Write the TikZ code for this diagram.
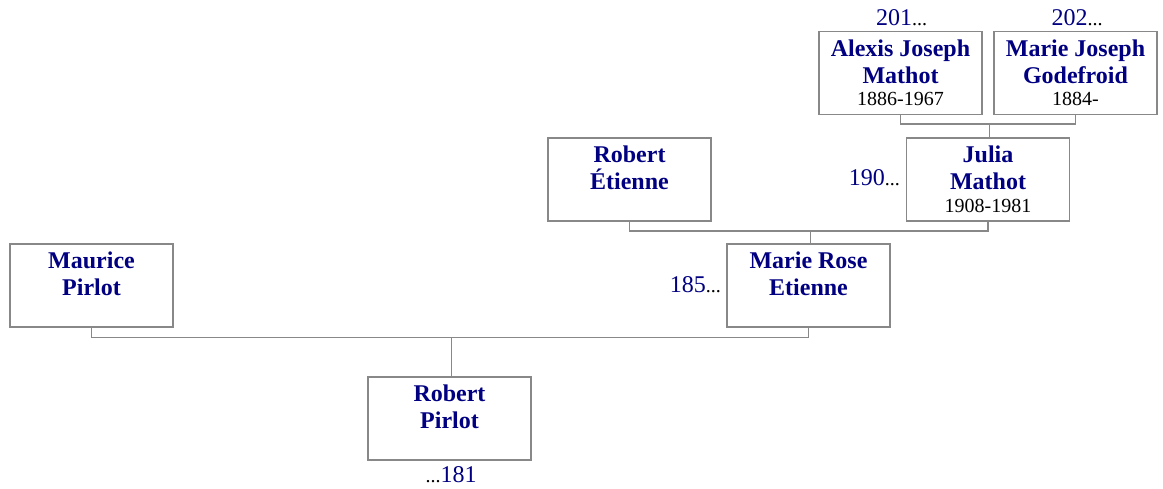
\documentclass[tikz,border=0pt]{standalone}
\usepackage{fontspec}
\setmainfont{Liberation Serif}
\definecolor{nav}{RGB}{0,0,128}
\definecolor{ln}{RGB}{136,136,136}
\newcommand{\datef}{\fontsize{20}{23}\selectfont\mdseries\color{black}}
\newcommand{\dotsf}[1]{{\fontsize{20}{20}\selectfont\color{black}#1}}
\begin{document}
\begin{tikzpicture}[x=1pt,y=-1pt,
  person/.style={draw=ln,line width=1.4pt,minimum width=163pt,minimum height=83pt,inner sep=0pt,outer sep=0pt},
  ptext/.style={anchor=north,align=center,inner sep=0pt,text=nav,font=\fontsize{24}{27}\selectfont\bfseries},
  lab/.style={inner sep=0pt,text=nav,font=\fontsize{24}{27}\selectfont},
  conn/.style={draw=ln,line width=1.4pt}]
\useasboundingbox (0,0) rectangle (1163,489);

\node[person] (alexis) at (900.5,73) {};
\node[person] (mjg) at (1075.5,73) {};
\node[person] (julia) at (988,179.5) {};
\node[person] (retienne) at (629.5,179.5) {};
\node[person] (mrose) at (808.5,285.5) {};
\node[person] (maurice) at (91.5,285.5) {};
\node[person] (rpirlot) at (449.5,418.5) {};

\node[ptext] (alexis-t) at ([yshift=-8pt]alexis.north) {Alexis Joseph\\Mathot\\[-4.5pt]{\datef 1886-1967}};
\node[ptext] (mjg-t) at ([yshift=-8pt]mjg.north) {Marie Joseph\\Godefroid\\[-4.5pt]{\datef 1884-}};
\node[ptext] (julia-t) at ([yshift=-8pt]julia.north) {Julia\\Mathot\\[-4.5pt]{\datef 1908-1981}};
\node[ptext] (retienne-t) at ([yshift=-8pt]retienne.north) {Robert\\Étienne};
\node[ptext] (mrose-t) at ([yshift=-8pt]mrose.north) {Marie Rose\\Etienne};
\node[ptext] (maurice-t) at ([yshift=-8pt]maurice.north) {Maurice\\Pirlot};
\node[ptext] (rpirlot-t) at ([yshift=-8pt]rpirlot.north) {Robert\\Pirlot};

\node[lab,anchor=base] (l201) at (901.5,25.7) {201\dotsf{...}};
\node[lab,anchor=base] (l202) at (1077,25.7) {202\dotsf{...}};
\node[lab,anchor=base east] (l190) at (900,185.5) {190\dotsf{...}};
\node[lab,anchor=base east] (l185) at (721,293) {185\dotsf{...}};
\node[lab,anchor=base] (l181) at (451,482) {\dotsf{...}181};

\coordinate (b1) at (989.5,124);
\coordinate (b2) at (810.5,231);
\coordinate (b3) at (451.5,337.5);

\draw[conn] (alexis.south) |- (b1) -| (mjg.south);
\draw[conn] (b1) -- (b1 |- julia.north);
\draw[conn] (retienne.south) |- (b2) -| (julia.south);
\draw[conn] (b2) -- (b2 |- mrose.north);
\draw[conn] (maurice.south) |- (b3) -| (mrose.south);
\draw[conn] (b3) -- (b3 |- rpirlot.north);
\end{tikzpicture}
\end{document}
